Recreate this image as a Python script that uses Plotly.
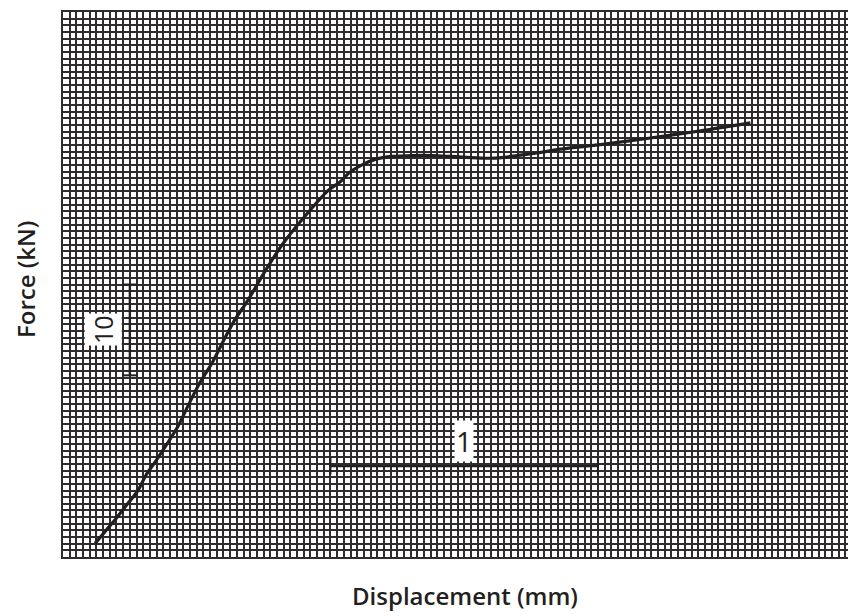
import plotly.graph_objects as go

# Curve data (displacement in mm, force in kN)
displacement = [0.12, 0.16, 0.20, 0.24, 0.28, 0.31, 0.35, 0.39, 0.43, 0.47, 0.51, 0.56,
                0.60, 0.64, 0.69, 0.75, 0.82, 0.91, 0.99, 1.04, 1.07, 1.12, 1.17, 1.23,
                1.31, 1.38, 1.45, 1.51, 1.59, 1.65, 1.70, 1.78, 1.86, 2.01, 2.19, 2.38, 2.57]
force = [1.5, 2.9, 4.3, 5.8, 7.3, 9.0, 10.7, 12.5, 14.4, 16.8, 19.1, 21.5,
         23.8, 26.0, 28.2, 31.2, 34.4, 37.7, 40.3, 41.4, 42.3, 43.2, 43.8, 44.1,
         44.2, 44.2, 44.1, 44.0, 43.9, 44.0, 44.2, 44.5, 44.9, 45.4, 46.1, 46.9, 47.8]

# Scale bars: 10 kN (vertical) and 1 mm (horizontal)
force_bar_x = [0.25, 0.25]
force_bar_y = [20, 30]
force_bar_label = "10"
disp_bar_x = [1.0, 2.0]
disp_bar_y = [10, 10]
disp_bar_label = "1"

x_title = "Displacement (mm)"
y_title = "Force (kN)"

INK = "#231f20"
GRID = "#2e2c2c"

fig = go.Figure()

fig.add_trace(go.Scatter(
    x=displacement, y=force, mode="lines",
    line=dict(color=INK, width=3.2, shape="spline", smoothing=0.8),
    hoverinfo="skip", showlegend=False,
))

fig.add_trace(go.Scatter(
    x=force_bar_x, y=force_bar_y, mode="lines+markers",
    line=dict(color=INK, width=2.4),
    marker=dict(symbol="line-ew-open", size=11, line=dict(color=INK, width=2)),
    hoverinfo="skip", showlegend=False,
))

fig.add_trace(go.Scatter(
    x=disp_bar_x, y=disp_bar_y, mode="lines+markers",
    line=dict(color=INK, width=2.2),
    marker=dict(symbol="line-ns-open", size=12, line=dict(color=INK, width=2)),
    hoverinfo="skip", showlegend=False,
))

fig.add_annotation(
    x=0.15, y=sum(force_bar_y) / 2, text=force_bar_label, textangle=-90,
    showarrow=False, bgcolor="white", borderpad=1,
    font=dict(family="Open Sans", size=25, color=INK),
)
fig.add_annotation(
    x=sum(disp_bar_x) / 2, y=12.8, text=disp_bar_label,
    showarrow=False, bgcolor="white", borderpad=1,
    font=dict(family="Open Sans", size=28, color=INK),
)

fig.add_annotation(
    x=0.51, y=0, xref="paper", yref="paper", yanchor="middle",
    yshift=-38, text=x_title, showarrow=False,
    font=dict(family="Open Sans", size=24, color=INK, weight=600),
)
fig.add_annotation(
    x=0, y=0.51, xref="paper", yref="paper", xanchor="center",
    xshift=-38, text=y_title, textangle=-90, showarrow=False,
    font=dict(family="Open Sans", size=24, color=INK, weight=600),
)

fig.update_xaxes(
    range=[0, 2.95], tick0=0, dtick=0.025, showgrid=True,
    gridcolor=GRID, gridwidth=1.5, zeroline=False,
    showticklabels=False, ticks="", showline=True, mirror=True,
    linecolor=GRID, linewidth=1.6,
)
fig.update_yaxes(
    range=[0, 60], tick0=0, dtick=60 / 82, showgrid=True,
    gridcolor=GRID, gridwidth=1.5, zeroline=False,
    showticklabels=False, ticks="", showline=True, mirror=True,
    linecolor=GRID, linewidth=1.6,
)

# page body adds an 8px offset, so the figure is sized to fit the window
fig.update_layout(
    width=848, height=608,
    margin=dict(l=55, r=4, t=2, b=59),
    paper_bgcolor="white", plot_bgcolor="white",
    showlegend=False,
)

fig.write_html("out.html")
